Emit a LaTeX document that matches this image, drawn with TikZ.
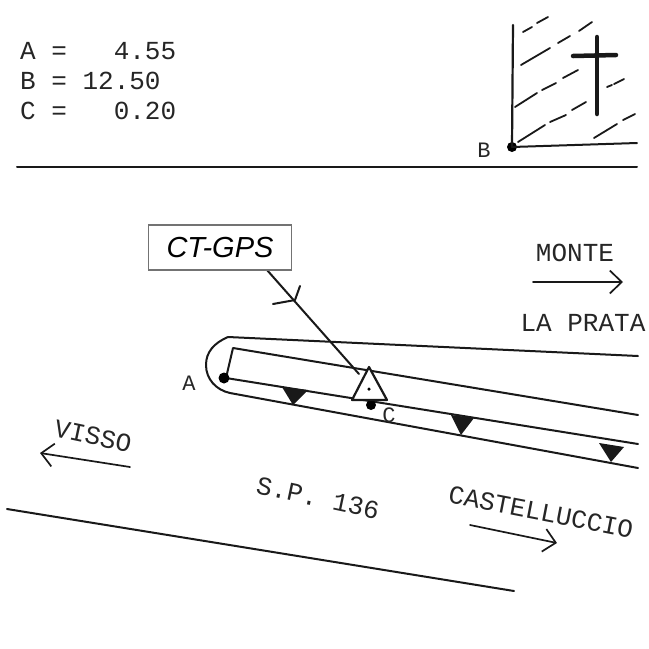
\documentclass[tikz,border=0pt]{standalone}
\usepackage{fontspec}
\setmainfont{Liberation Sans}
\setmonofont{Liberation Mono}
\usetikzlibrary{arrows.meta, calc}

\begin{document}
\begin{tikzpicture}[
  x=1pt, y=-1pt,
  % Basic styles
  typed/.style={
    font=\ttfamily\fontsize{#1}{#1}\selectfont,
    inner sep=0pt,
    text=black!85
  },
  typed/.default=26,
  inkline/.style={
    draw=black!90,
    line width=#1,
    line cap=round,
    line join=round
  },
  inkline/.default=2pt,
  hatchline/.style={
    inkline=1.8pt
  },
  dirarrow/.style={
    inkline=1.7pt,
    -{Straight Barb[length=12pt,width=23pt,line width=1.7pt]}
  },
  gpsbox/.style={
    draw=black!55,
    fill=white,
    line width=1.2pt,
    minimum width=143pt,
    minimum height=45pt,
    inner sep=0pt,
    font=\fontsize{29}{29}\selectfont\itshape
  }
]

\useasboundingbox (0,0) rectangle (649,649);
\fill[white] (0,0) rectangle (649,649);

% =============================================================================
% TOP: VALUES AND CEMETERY
% =============================================================================
\node[typed, anchor=west] (valA) at (20,51) {A =~~~4.55};
\node[typed, anchor=west] (valB) at (20,81) {B = 12.50};
\node[typed, anchor=west] (valC) at (20,111) {C =~~~0.20};

\draw[inkline] (17,167) -- (637,167);

% Wall
\node[fill=black, circle, minimum size=10pt, inner sep=0pt] (pointB) at (512,147) {};
\node[typed=22] (lblB) at (484,150) {B};
\draw[inkline=2.2pt] (pointB.center) -- (513,25);
\draw[inkline=2pt] (pointB.center) -- (637,143);

% Hatching
\foreach \xa/\ya/\xb/\yb in {
  523/32/532/27, 537/23/548/17,
  521/65/550/48, 558/43/570/36, 579/31/592/22,
  515/107/537/93, 542/90/556/83, 563/78/578/70,
  518/142/545/125, 550/122/566/115, 572/110/586/102, 607/87/612/85, 614/84/624/79,
  594/138/617/124, 623/120/635/114} {
  \draw[hatchline] (\xa,\ya) -- (\xb,\yb);
}

% Cross
\draw[inkline=4.5pt] (597,37) -- (597,114);
\draw[inkline=4.5pt] (573,56) -- (616,55);

% =============================================================================
% ROAD AND LAY-BY
% =============================================================================
\draw[inkline] (638,356) -- (228,337)
  .. controls (214,343) and (206,352) .. (206,365)
  .. controls (206,379) and (216,390) .. (230,393)
  -- (638,468);
\draw[inkline] (638,415) -- (233,348) -- (226,378) -- (638,444);
\node[fill=black, circle, minimum size=11pt, inner sep=0pt] (pointA) at (224,378) {};
\node[typed=22] (lblA) at (189,383) {A};

% Wedges
\foreach \xa/\ya/\xb/\yb/\xc/\yc in {
  282/387/308/390/293/405,
  451/415/474/418/461/435,
  599/443/624/447/611/462} {
  \fill[black!90] (\xa,\ya) -- (\xb,\yb) -- (\xc,\yc) -- cycle;
}

\draw[inkline] (7,509) -- (514,591);

% =============================================================================
% CT-GPS MARK
% =============================================================================
\coordinate (leadtop) at (267,270);
\coordinate (leadend) at (359,374);
\draw[inkline] (leadtop) -- (leadend);
\draw[inkline] (273,304) -- (295,300) -- (300,286);

\node[gpsbox] (ctgps) at (220,247.5) {CT-GPS};

\node[fill=black, circle, minimum size=10pt, inner sep=0pt] (pointC) at (371,405) {};
\node[typed=22] (lblC) at (389,415) {C};

\draw[inkline=2.2pt, fill=white] (369,367) -- (387,400) -- (352,400) -- cycle;
\node[fill=black, circle, minimum size=3.5pt, inner sep=0pt] (gpsdot) at (369,389) {};

% =============================================================================
% DIRECTIONS
% =============================================================================
\node[typed] (monte) at (575,253) {MONTE};
\node[typed] (prata) at (583,323) {LA PRATA};
\node[typed, rotate=-12] (visso) at (93,436) {VISSO};
\node[typed, rotate=-12] (sp) at (318,498) {S.P. 136};
\node[typed, rotate=-11] (castel) at (541,512) {CASTELLUCCIO};

\draw[dirarrow] (533,282) -- (623,282);
\draw[dirarrow] (130,467) -- (40,453);
\draw[dirarrow] (470,525) -- (557,543);

\end{tikzpicture}
\end{document}
